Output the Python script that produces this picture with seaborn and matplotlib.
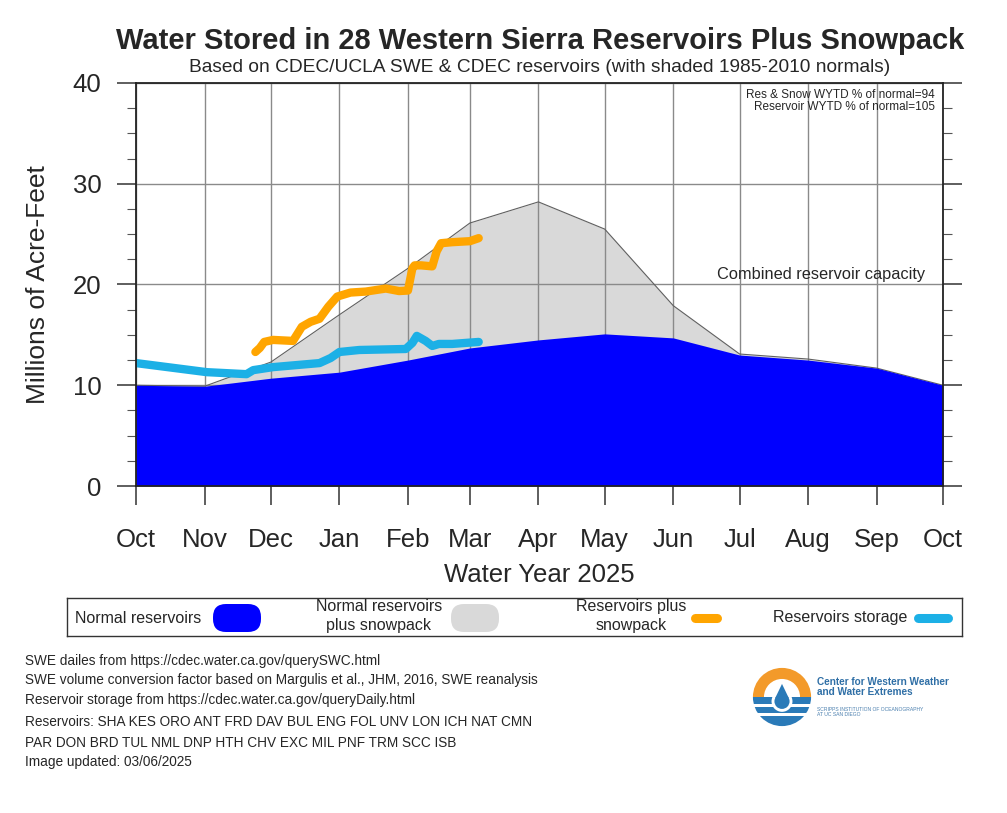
import numpy as np
import pandas as pd
import matplotlib.pyplot as plt
import seaborn as sns
from matplotlib.patches import FancyBboxPatch, Wedge, Circle, Polygon, Rectangle

# Month ticks (days since Oct 1 of the water year)
month_days = [0, 31, 61, 92, 123, 151, 182, 212, 243, 273, 304, 335, 365]
month_labels = ['Oct', 'Nov', 'Dec', 'Jan', 'Feb', 'Mar', 'Apr', 'May',
                'Jun', 'Jul', 'Aug', 'Sep', 'Oct']

# 1985-2010 normals (millions of acre-feet)
normal_res = [10.0, 9.9, 10.7, 11.3, 12.5, 13.7, 14.5, 15.1, 14.7, 13.0, 12.5, 11.7, 10.0]
normal_res_snow = [10.0, 9.9, 12.3, 17.0, 21.6, 26.1, 28.2, 25.5, 17.9, 13.1, 12.6, 11.7, 10.0]

# WY2025 reservoir storage
storage_days = [0, 32, 50, 53, 62, 83, 88, 92, 101, 122, 125, 127, 131, 134, 137, 143, 155]
storage_vals = [12.2, 11.3, 11.1, 11.5, 11.8, 12.2, 12.7, 13.3, 13.5, 13.6, 14.2, 14.9,
                14.4, 13.9, 14.1, 14.1, 14.3]

# WY2025 reservoirs plus snowpack
res_snow_days = [54, 56, 58, 62, 71, 75, 79, 83, 87, 91, 97, 104, 113, 119, 123, 125,
                 126, 129, 134, 136, 138, 143, 151, 155]
res_snow_vals = [13.3, 13.7, 14.3, 14.5, 14.4, 15.8, 16.3, 16.6, 17.8, 18.8, 19.2, 19.3,
                 19.6, 19.35, 19.4, 21.6, 21.9, 21.9, 21.8, 23.3, 24.1, 24.2, 24.3, 24.6]

footnotes = [
    "SWE dailes from https://cdec.water.ca.gov/querySWC.html",
    "SWE volume conversion factor based on Margulis et al., JHM, 2016, SWE reanalysis",
    "Reservoir storage from https://cdec.water.ca.gov/queryDaily.html",
    "Reservoirs: SHA KES ORO ANT FRD DAV BUL ENG FOL UNV LON ICH NAT CMN",
    "PAR DON BRD TUL NML DNP HTH CHV EXC MIL PNF TRM SCC ISB",
    "Image updated: 03/06/2025",
]
footnote_y = [661, 680, 700, 722, 743, 762]

BLUE = '#0000ff'
GRAY = '#d9d9d9'
ORANGE = '#ffa500'
CYAN = '#1cb0e6'

sns.set_style('ticks')
plt.rcParams['font.family'] = ['Liberation Sans', 'DejaVu Sans']

W, H = 1007, 813
fig = plt.figure(figsize=(W / 100, H / 100), dpi=100)

ax = fig.add_axes([136 / W, 1 - 486 / H, (943 - 136) / W, (486 - 83) / H])
ax.set_axisbelow(True)
ax.fill_between(month_days, 0, normal_res_snow, color=GRAY, lw=0, zorder=0.3)
ax.grid(True, color='#8a8a8a', lw=1.0)
ax.plot(month_days, normal_res_snow, color='#606060', lw=0.8, zorder=1)
ax.fill_between(month_days, 0, normal_res, color=BLUE, lw=0, zorder=2)

df_storage = pd.DataFrame({'day': storage_days, 'maf': storage_vals})
df_rs = pd.DataFrame({'day': res_snow_days, 'maf': res_snow_vals})
sns.lineplot(data=df_storage, x='day', y='maf', color=CYAN, lw=6, sort=False,
             ax=ax, zorder=4, solid_capstyle='round')
sns.lineplot(data=df_rs, x='day', y='maf', color=ORANGE, lw=6, sort=False,
             ax=ax, zorder=5, solid_capstyle='round')

ax.set_xlim(0, 365)
ax.set_ylim(0, 40)
ax.set_xticks(month_days, month_labels)
ax.set_yticks([0, 10, 20, 30, 40])
ax.set_yticks(np.arange(0, 40.1, 2.5), minor=True)
ax.tick_params(axis='both', which='major', labelsize=18.5, length=14, width=1.1,
               color='#333333', direction='out', pad=11)
ax.tick_params(axis='x', which='major', pad=16)
ax.tick_params(axis='y', which='both', right=True, left=True)
ax.tick_params(axis='y', which='minor', length=6.5, width=0.8, color='#555555')
ax.grid(True, which='minor', alpha=0)
ax.set_xlabel('Water Year 2025', fontsize=18.5, labelpad=8)
ax.set_ylabel('Millions of Acre-Feet', fontsize=19, labelpad=16)
for sp in ax.spines.values():
    sp.set_linewidth(1.3)
    sp.set_color('#222222')
    sp.set_zorder(6)

ax.text(0.99, 0.985, 'Res & Snow WYTD % of normal=94\nReservoir WYTD % of normal=105',
        transform=ax.transAxes, ha='right', va='top', fontsize=8.5,
        linespacing=0.95, zorder=7)
ax.text(0.978, 20.25, 'Combined reservoir capacity', transform=ax.get_yaxis_transform(),
        ha='right', va='bottom', fontsize=11.8, zorder=7)

fig.text(540 / W, 1 - 41 / H, 'Water Stored in 28 Western Sierra Reservoirs Plus Snowpack',
         ha='center', va='center', fontsize=21, weight='bold')
fig.text(539.5 / W, 1 - 68 / H,
         'Based on CDEC/UCLA SWE & CDEC reservoirs (with shaded 1985-2010 normals)',
         ha='center', va='center', fontsize=13.8)

# Legend panel (pixel coordinates inside)
lx0, lx1, ly0, ly1 = 67, 962, 598, 636
lax = fig.add_axes([lx0 / W, 1 - ly1 / H, (lx1 - lx0) / W, (ly1 - ly0) / H])
lax.set_xlim(lx0, lx1)
lax.set_ylim(ly1, ly0)
lax.set_xticks([])
lax.set_yticks([])
for sp in lax.spines.values():
    sp.set_linewidth(1.0)
    sp.set_color('#333333')
lfs = 11.5
lax.text(75, 618, 'Normal reservoirs', ha='left', va='center', fontsize=lfs)
lax.add_patch(FancyBboxPatch((213, 604), 48, 28, boxstyle='round,pad=0,rounding_size=13',
                             fc=BLUE, ec='none'))
lax.text(379, 616, 'Normal reservoirs\nplus snowpack', ha='center', va='center',
         fontsize=lfs, linespacing=1.3)
lax.add_patch(FancyBboxPatch((451, 604), 48, 28, boxstyle='round,pad=0,rounding_size=13',
                             fc=GRAY, ec='none'))
lax.text(631, 616, 'Reservoirs plus\nsnowpack', ha='center', va='center',
         fontsize=lfs, linespacing=1.3)
lax.plot([695, 717], [618, 618], color=ORANGE, lw=6.5, solid_capstyle='round')
lax.text(907, 617, 'Reservoirs storage', ha='right', va='center', fontsize=lfs)
lax.plot([918, 948], [618, 618], color=CYAN, lw=6.5, solid_capstyle='round')

for txt, y in zip(footnotes, footnote_y):
    fig.text(25 / W, 1 - y / H, txt, ha='left', va='center', fontsize=9.8)

# Logo
gax = fig.add_axes([750 / W, 1 - 729 / H, 64 / W, 64 / H])
gax.set_xlim(-1.1, 1.1)
gax.set_ylim(-1.1, 1.1)
gax.set_aspect('equal')
gax.axis('off')
gax.add_patch(Wedge((0, 0), 1.0, 0, 180, width=0.38, fc='#f39a2a', ec='none'))
gax.add_patch(Wedge((0, 0), 1.0, 180, 360, fc='#2a7ab8', ec='none'))
for yy in [-0.3, -0.6]:
    gax.add_patch(Rectangle((-1.1, yy - 0.05), 2.2, 0.1, fc='white', ec='none'))
gax.add_patch(Circle((0, -0.15), 0.36, fc='white', ec='none'))
gax.add_patch(Polygon([[-0.33, -0.02], [0.0, 0.62], [0.33, -0.02]], fc='white', ec='none'))
gax.add_patch(Circle((0, -0.15), 0.26, fc='#2a7ab8', ec='none'))
gax.add_patch(Polygon([[-0.24, -0.05], [0.0, 0.45], [0.24, -0.05]], fc='#2a7ab8', ec='none'))
fig.text(817 / W, 1 - 687 / H, 'Center for Western Weather\nand Water Extremes',
         ha='left', va='center', fontsize=7.2, weight='bold', color='#2f6fa6',
         linespacing=1.1)
fig.text(817 / W, 1 - 712 / H, 'SCRIPPS INSTITUTION OF OCEANOGRAPHY\nAT UC SAN DIEGO',
         ha='left', va='center', fontsize=3.6, color='#4a7fae', linespacing=1.2)

fig.savefig('out.png', dpi=100)
